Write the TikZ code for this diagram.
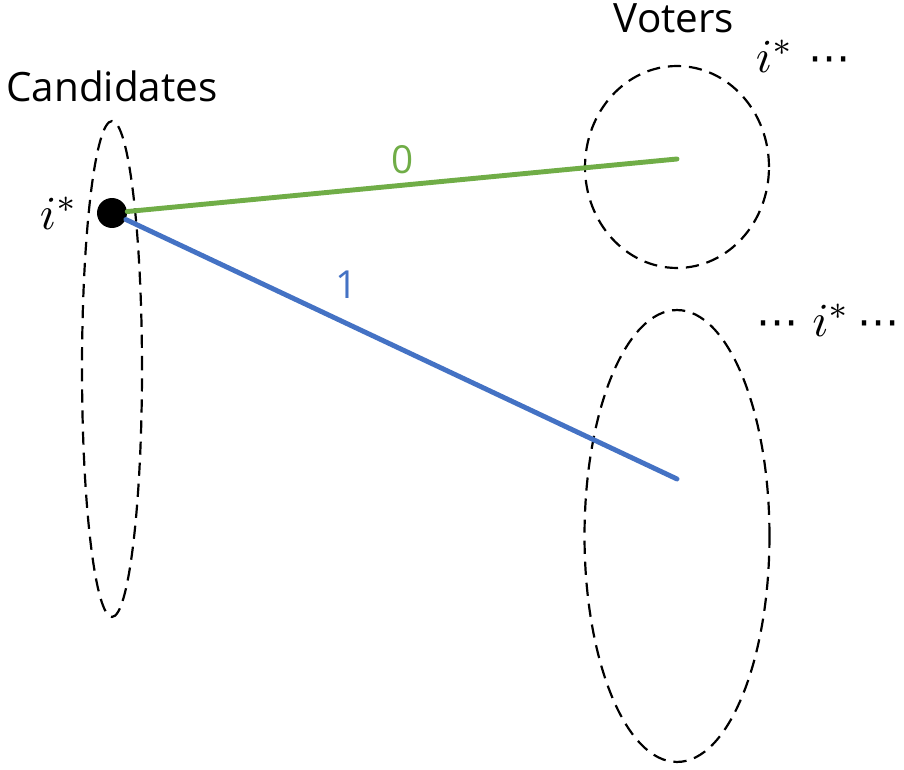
\documentclass[tikz,border=0pt]{standalone}
\usepackage{fontspec}
\setmainfont{Open Sans}
\newfontfamily\dotsfont{DejaVu Sans}
\usetikzlibrary{positioning, shapes.geometric}
\definecolor{edgegreen}{HTML}{70AD47}
\definecolor{edgeblue}{HTML}{4472C4}
\newcommand{\bigmath}[1]{\scalebox{2.7}{$#1$}}
\newcommand{\rankdots}{{\dotsfont\fontsize{24}{28}\selectfont ⋯}}

\begin{document}
\begin{tikzpicture}[x=0.02cm, y=-0.02cm,
  group/.style={draw, ellipse, line width=1.25pt, dash pattern=on 7.5pt off 4.5pt,
    inner sep=0pt},
  edge/.style={line width=2.8pt, line cap=round},
  title/.style={font=\fontsize{23}{27}\selectfont},
  mathlabel/.style={inner sep=0pt},
  weight/.style={font=\fontsize{22}{26}\selectfont, inner sep=1pt},
  dot/.style={circle, fill=black, minimum size=0.6cm, inner sep=0pt}]

\useasboundingbox (0,0) rectangle (904,770);

% --- Groups ---
\node[group, minimum width=1.2cm, minimum height=9.92cm] (cands) at (112,369) {};
\node[group, minimum width=3.68cm, minimum height=4.04cm] (topvoters) at (677,167) {};
\node[group, minimum width=3.7cm, minimum height=9.04cm] (lowvoters) at (677,536) {};

% --- Titles ---
\node[title] (candtitle) at (112,86) {Candidates};
\node[title] (votertitle) at (674,18) {Voters};

% --- Candidate i* ---
\node[dot] (istar) at (112,213) {};
\node[mathlabel] (istarlabel) at (59,213) {\bigmath{i^*}};

% --- Ranking labels ---
\node[mathlabel] (toprank) at (803,56) {\bigmath{i^*}\hspace{8pt}\rankdots};
\node[mathlabel] (lowrank) at (828,320) {\rankdots\hspace{8pt}\bigmath{i^*}\hspace{4pt}\rankdots};

% --- Edge end points ---
\coordinate (topend) at (677,159);
\coordinate (lowend) at (677,479);

% --- Edges ---
\draw[edge, edgegreen] (istar) -- node[weight, pos=0.5, above=4pt] {0} (topend);
\draw[edge, edgeblue] (istar) -- node[weight, pos=0.4, above=12pt] {1} (lowend);

\end{tikzpicture}
\end{document}
